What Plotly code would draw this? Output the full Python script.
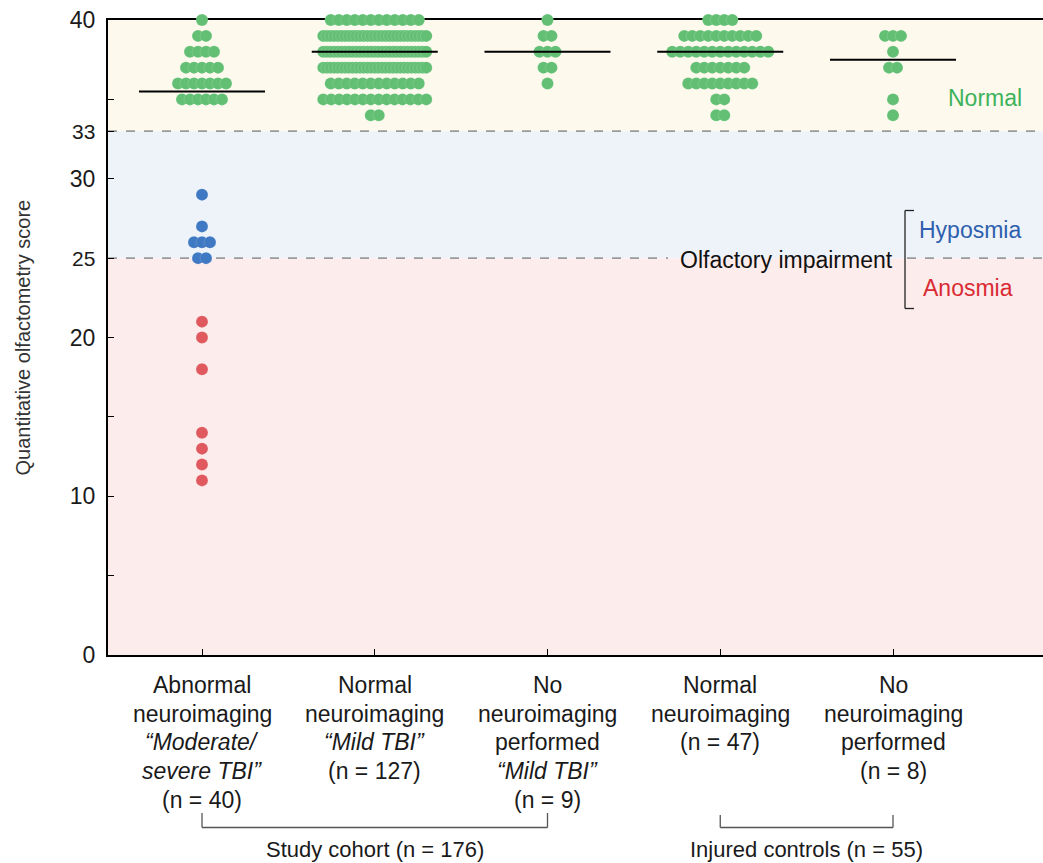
import plotly.graph_objects as go

# ---------------- data ----------------
categories = [1, 2, 3, 4, 5]
cat_labels = [
    ["Abnormal", "neuroimaging", "<i>“Moderate/</i>", "<i>severe TBI”</i>", "(n = 40)"],
    ["Normal", "neuroimaging", "<i>“Mild TBI”</i>", "(n = 127)"],
    ["No", "neuroimaging", "performed", "<i>“Mild TBI”</i>", "(n = 9)"],
    ["Normal", "neuroimaging", "(n = 47)"],
    ["No", "neuroimaging", "performed", "(n = 8)"],
]

# score value of each row of dots and number of dots in that row
abn_scores = [40, 39, 38, 37, 36, 35, 29, 27, 26, 25, 21, 20, 18, 14, 13, 12, 11]
abn_counts = [1, 2, 4, 5, 7, 6, 1, 1, 3, 2, 1, 1, 1, 1, 1, 1, 1]

mild_scores = [40, 39, 38, 37, 36, 35, 34]
mild_counts = [12, 29, 29, 29, 12, 14, 2]

noimg_scores = [40, 39, 38, 37, 36]
noimg_counts = [1, 2, 3, 2, 1]

ctrl_scores = [40, 39, 38, 37, 36, 35, 34]
ctrl_counts = [4, 10, 13, 7, 9, 2, 2]

ctrl_noimg_scores = [39, 38, 37, 35, 34]
ctrl_noimg_counts = [3, 1, 2, 1, 1]

medians = [35.5, 38, 38, 38, 37.5]

group_scores = [abn_scores, mild_scores, noimg_scores, ctrl_scores, ctrl_noimg_scores]
group_counts = [abn_counts, mild_counts, noimg_counts, ctrl_counts, ctrl_noimg_counts]

y_tickvals = [0, 5, 10, 15, 20, 25, 30, 33, 35, 40]
y_ticktext = ["0", "", "10", "", "20",
              "<span style='font-size:21px'>25</span>", "30",
              "<span style='font-size:21px'>33</span>", "", "40"]

GREEN = "#62bf74"
BLUE = "#3f78c3"
RED = "#e0595f"
FONT = "Liberation Sans, Arial, sans-serif"

# ---------------- geometry helpers ----------------
PX_PER_UNIT = 172.75
X_RANGE = [1 - 94 / PX_PER_UNIT, 1 - 94 / PX_PER_UNIT + 935 / PX_PER_UNIT]
DOT_STEP = 8.0 / PX_PER_UNIT
MAX_SPAN = 103.0 / PX_PER_UNIT


def color_for(s):
    if s >= 33:
        return GREEN
    if s >= 25:
        return BLUE
    return RED


xs, ys, cs = [], [], []
for cat, scores, counts in zip(categories, group_scores, group_counts):
    for s, n in zip(scores, counts):
        step = DOT_STEP if n <= 1 else min(DOT_STEP, MAX_SPAN / (n - 1))
        for i in range(n):
            xs.append(cat + (i - (n - 1) / 2) * step)
            ys.append(s)
            cs.append(color_for(s))

fig = go.Figure()

fig.add_trace(go.Scatter(
    x=xs, y=ys, mode="markers", cliponaxis=False,
    marker=dict(size=12, color=cs, line=dict(width=0.5, color="rgba(255,255,255,0.3)")),
    hoverinfo="skip", showlegend=False))

HALF = 63 / PX_PER_UNIT
for cat, m in zip(categories, medians):
    fig.add_trace(go.Scatter(
        x=[cat - HALF, cat + HALF], y=[m, m], mode="lines", cliponaxis=False,
        line=dict(color="black", width=2), hoverinfo="skip", showlegend=False))

shapes = []
# background bands
for y0, y1, col in [(33, 40, "#fdf9ed"), (25, 33, "#edf3f9"), (0, 25, "#fcecec")]:
    shapes.append(dict(type="rect", xref="paper", yref="y", x0=0, x1=1, y0=y0, y1=y1,
                       fillcolor=col, line=dict(width=0), layer="below"))
# dashed thresholds
dash = dict(color="#9a9a9a", width=1.6, dash="dash")
shapes.append(dict(type="line", xref="paper", yref="y", x0=0, x1=1, y0=33, y1=33,
                   line=dash, layer="below"))
shapes.append(dict(type="line", xref="x", yref="y", x0=X_RANGE[0], x1=1 + (668 - 202) / PX_PER_UNIT,
                   y0=25, y1=25, line=dash, layer="below"))
shapes.append(dict(type="line", xref="x", yref="y", x0=1 + (907 - 202) / PX_PER_UNIT, x1=X_RANGE[1],
                   y0=25, y1=25, line=dash, layer="below"))
# impairment bracket
bx = 1 + (905 - 202) / PX_PER_UNIT
bt = 1 + (914 - 202) / PX_PER_UNIT
btop, bbot = (655 - 210.5) / 15.875, (655 - 308.5) / 15.875
brk = dict(color="#222222", width=1.3)
shapes += [
    dict(type="line", xref="x", yref="y", x0=bx, x1=bx, y0=bbot, y1=btop, line=brk),
    dict(type="line", xref="x", yref="y", x0=bx, x1=bt, y0=btop, y1=btop, line=brk),
    dict(type="line", xref="x", yref="y", x0=bx, x1=bt, y0=bbot, y1=bbot, line=brk),
]


def py2paper(py):
    return (655 - py) / 635.0


# group brackets below the axis
gbr = dict(color="#555555", width=1.3)
for a, b, top_px in [(1, 3, 813), (4, 5, 815)]:
    shapes += [
        dict(type="line", xref="x", yref="paper", x0=a, x1=b, y0=py2paper(827.5), y1=py2paper(827.5), line=gbr),
        dict(type="line", xref="x", yref="paper", x0=a, x1=a, y0=py2paper(827.5), y1=py2paper(top_px), line=gbr),
        dict(type="line", xref="x", yref="paper", x0=b, x1=b, y0=py2paper(827.5), y1=py2paper(top_px), line=gbr),
    ]

annotations = []
LINE_H = 28.7
for cat, lines in zip(categories, cat_labels):
    for i, t in enumerate(lines):
        annotations.append(dict(x=cat, xref="x", y=py2paper(685 + LINE_H * i), yref="paper",
                                text=t, showarrow=False, xanchor="center", yanchor="middle",
                                font=dict(family=FONT, size=23, color="#1a1a1a")))

annotations += [
    dict(x=2, xref="x", y=py2paper(849), yref="paper", text="Study cohort (n = 176)",
         showarrow=False, xanchor="center", yanchor="middle", borderpad=0,
         font=dict(family=FONT, size=22, color="#1a1a1a")),
    dict(x=4.5, xref="x", y=py2paper(849), yref="paper", text="Injured controls (n = 55)",
         showarrow=False, xanchor="center", yanchor="middle", borderpad=0,
         font=dict(family=FONT, size=22, color="#1a1a1a")),
    dict(x=1 + (985 - 202) / PX_PER_UNIT, xref="x", y=(655 - 98) / 15.875, yref="y", text="Normal",
         showarrow=False, xanchor="center", yanchor="middle",
         font=dict(family=FONT, size=23, color="#3db35c")),
    dict(x=1 + (970 - 202) / PX_PER_UNIT, xref="x", y=(655 - 230) / 15.875, yref="y", text="Hyposmia",
         showarrow=False, xanchor="center", yanchor="middle",
         font=dict(family=FONT, size=23, color="#2f5fae")),
    dict(x=1 + (968 - 202) / PX_PER_UNIT, xref="x", y=(655 - 288) / 15.875, yref="y", text="Anosmia",
         showarrow=False, xanchor="center", yanchor="middle",
         font=dict(family=FONT, size=23, color="#d92b33")),
    dict(x=1 + (895 - 202) / PX_PER_UNIT, xref="x", y=(655 - 260) / 15.875, yref="y",
         text="Olfactory impairment", showarrow=False, xanchor="right", yanchor="middle",
         font=dict(family=FONT, size=23, color="#111111")),
    dict(x=0, xref="paper", xshift=-86, y=0.5, yref="paper", text="Quantitative olfactometry score",
         textangle=-90, showarrow=False, xanchor="center", yanchor="middle",
         font=dict(family=FONT, size=20, color="#333333")),
]

fig.update_layout(
    width=1043, height=863,
    margin=dict(l=108, r=0, t=20, b=208),
    paper_bgcolor="white", plot_bgcolor="white",
    shapes=shapes, annotations=annotations, showlegend=False,
    font=dict(family=FONT, color="#1a1a1a"),
)
fig.update_xaxes(range=X_RANGE, showgrid=False, zeroline=False,
                 showline=True, mirror=True, linecolor="black", linewidth=2,
                 tickvals=categories, ticks="inside", ticklen=6, tickwidth=1.3, tickcolor="black",
                 showticklabels=False, layer="below traces")
fig.update_yaxes(range=[0, 40], showgrid=False, zeroline=False,
                 showline=True, linecolor="black", linewidth=2,
                 tickvals=y_tickvals, ticktext=y_ticktext,
                 ticks="inside", ticklen=6, tickwidth=1.3, tickcolor="black",
                 tickfont=dict(family=FONT, size=23, color="#1a1a1a"),
                 ticklabelstandoff=6, layer="below traces")

fig.write_html("out.html", config={"displayModeBar": False},
               post_script="document.body.style.margin='0';document.body.style.overflow='hidden';")
